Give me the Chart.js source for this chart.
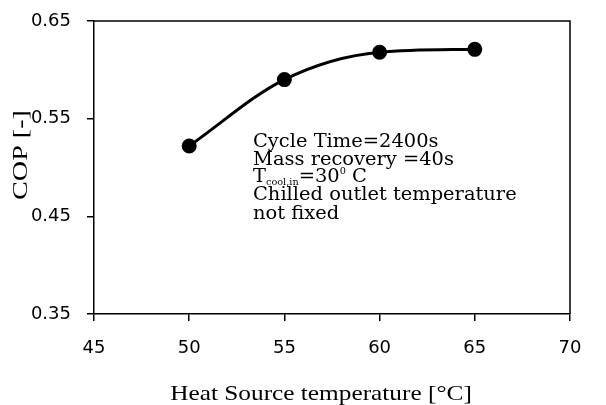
<!DOCTYPE html>
<html>
  <head>
    <script src="https://cdn.jsdelivr.net/npm/chart.js"></script>
    <style>
      body { margin: 0; padding: 0; background: #ffffff; }
      .wrap { width: 606px; height: 405px; }
    </style>
  </head>
  <body>
    <div class="wrap">
      <canvas id="myChart" width="606" height="405"></canvas>
    </div>

    <script>
      // values
      const heatSource = [50, 55, 60, 65];
      const cop = [0.522, 0.590, 0.618, 0.621];
      const yTicks = [0.35, 0.45, 0.55, 0.65];
      const xTitle = 'Heat Source temperature [°C]';
      const yTitle = 'COP [-]';
      const noteLines = ['Cycle Time=2400s', 'Mass recovery =40s', null, 'Chilled outlet temperature', 'not fixed'];

      const points = heatSource.map((x, i) => ({ x: x, y: cop[i] }));

      // draw text stretched along its own direction
      function stretchText(ctx, txt, x, y, rot, font, sx, align, base) {
        ctx.save();
        ctx.translate(x, y);
        ctx.rotate(rot);
        ctx.scale(sx, 1);
        ctx.font = font;
        ctx.textAlign = align;
        ctx.textBaseline = base;
        ctx.fillStyle = '#000';
        ctx.fillText(txt, 0, 0);
        ctx.restore();
      }

      const extras = {
        id: 'extras',
        afterDraw(chart) {
          const ctx = chart.ctx;
          const a = chart.chartArea;

          // box around plot area
          ctx.save();
          ctx.strokeStyle = '#000';
          ctx.lineWidth = 1.5;
          ctx.beginPath();
          ctx.moveTo(a.left, a.top);
          ctx.lineTo(a.right, a.top);
          ctx.lineTo(a.right, a.bottom);
          ctx.stroke();
          ctx.restore();

          // axis titles
          stretchText(ctx, xTitle, 321, 400, 0, '22px "Liberation Serif"', 1.15, 'center', 'alphabetic');
          stretchText(ctx, yTitle, 27, 155, -Math.PI / 2, '22px "Liberation Serif"', 1.28, 'center', 'alphabetic');

          // note text
          const nx = 253, sx = 1.08;
          const f = '18px "DejaVu Serif"';
          const baseY = [147, 165, 182, 200, 219];
          noteLines.forEach((t, i) => {
            if (t) stretchText(ctx, t, nx, baseY[i], 0, f, sx, 'left', 'alphabetic');
          });

          // T_cool,in = 30^0 C
          ctx.save();
          ctx.fillStyle = '#000';
          ctx.textBaseline = 'alphabetic';
          ctx.textAlign = 'left';
          ctx.translate(nx, baseY[2]);
          ctx.scale(sx, 1);
          let cx = 0;
          ctx.font = f;
          ctx.fillText('T', cx, 0);
          cx += ctx.measureText('T').width;
          ctx.font = '9px "DejaVu Serif"';
          ctx.fillText('cool,in', cx, 3);
          cx += ctx.measureText('cool,in').width;
          ctx.font = f;
          ctx.fillText('=30', cx, 0);
          cx += ctx.measureText('=30').width;
          ctx.font = '9px "DejaVu Serif"';
          ctx.fillText('0', cx, -8);
          cx += ctx.measureText('0').width;
          ctx.font = f;
          ctx.fillText(' C', cx, 0);
          ctx.restore();
        }
      };

      const ctx = document.getElementById('myChart').getContext('2d');
      new Chart(ctx, {
        type: 'line',
        data: {
          datasets: [{
            data: points,
            borderColor: '#000',
            backgroundColor: '#000',
            borderWidth: 3,
            pointRadius: 6,
            pointHoverRadius: 6,
            pointBackgroundColor: '#000',
            pointBorderColor: '#000',
            fill: false,
            cubicInterpolationMode: 'monotone'
          }]
        },
        options: {
          responsive: false,
          animation: false,
          layout: { padding: { left: 0, right: 36, top: 21, bottom: 0 } },
          plugins: {
            legend: { display: false },
            tooltip: { enabled: false }
          },
          scales: {
            x: {
              type: 'linear',
              min: 45,
              max: 70,
              afterFit(scale) { scale.height = 91; scale.paddingLeft = 0; scale.paddingRight = 0; },
              ticks: {
                stepSize: 5,
                padding: 17,
                color: '#000',
                font: { family: 'DejaVu Sans', size: 18 }
              },
              grid: { drawOnChartArea: false, drawTicks: true, tickLength: 7, color: '#000', lineWidth: 1.5 },
              border: { display: true, color: '#000', width: 1.5 }
            },
            y: {
              min: 0.35,
              max: 0.65,
              afterFit(scale) { scale.width = 94; scale.paddingTop = 0; scale.paddingBottom = 0; },
              afterBuildTicks(scale) { scale.ticks = yTicks.map(v => ({ value: v })); },
              ticks: {
                padding: 16,
                color: '#000',
                font: { family: 'DejaVu Sans', size: 18 },
                callback: v => v.toFixed(2)
              },
              grid: { drawOnChartArea: false, drawTicks: true, tickLength: 7, color: '#000', lineWidth: 1.5 },
              border: { display: true, color: '#000', width: 1.5 }
            }
          }
        },
        plugins: [extras]
      });
    </script>
  </body>
</html>
